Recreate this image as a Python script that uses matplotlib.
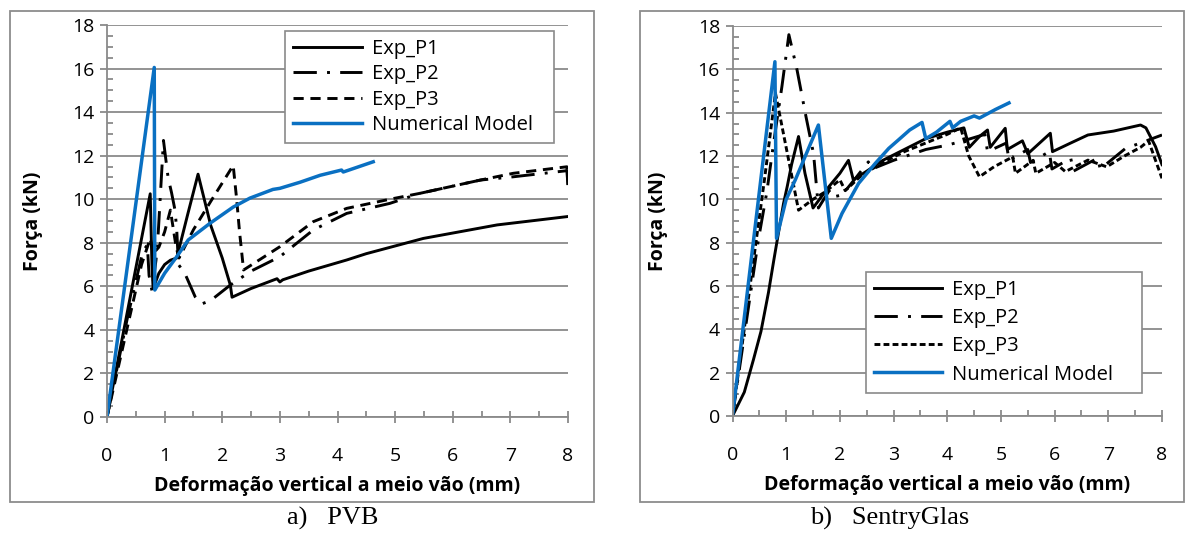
import numpy as np
import matplotlib
matplotlib.use('Agg')
import matplotlib.pyplot as plt
from matplotlib.patches import Rectangle
from matplotlib.ticker import MultipleLocator

plt.rcParams['font.family'] = ['Open Sans', 'DejaVu Sans']

# ---- a) PVB  (deformation mm, force kN)
pvb_p1_x = [0, 0.3, 0.6, 0.75, 0.78, 0.80, 0.9, 1.0, 1.1, 1.21, 1.4, 1.58, 1.8, 2.0, 2.14, 2.17,
            2.5, 2.95, 3.0, 3.05, 3.5, 4.16, 4.5, 5.49, 6.77, 7.98]
pvb_p1_y = [0, 4.1, 8.2, 10.25, 7.0, 5.9, 6.6, 7.0, 7.2, 7.3, 9.3, 11.15, 8.8, 7.3, 6.06, 5.5,
            5.9, 6.35, 6.2, 6.3, 6.7, 7.21, 7.5, 8.2, 8.82, 9.2]

pvb_p2_x = [0, 0.35, 0.62, 0.7, 0.73, 0.78, 0.85, 0.89, 0.98, 1.06, 1.12, 1.18, 1.21, 1.24,
            1.35, 1.53, 1.64, 1.8, 2.14, 2.5, 3.0, 3.58, 4.16, 4.91, 5.43, 6.48, 7.05, 7.98, 8.0]
pvb_p2_y = [0, 4.5, 7.6, 7.9, 6.5, 5.8, 7.2, 8.5, 12.7, 11.0, 10.3, 9.5, 8.6, 7.0,
            6.6, 5.52, 5.19, 5.35, 6.06, 6.7, 7.36, 8.59, 9.35, 9.81, 10.27, 10.88, 11.03, 11.31, 10.65]

pvb_p3_x = [0, 0.3, 0.6, 0.75, 0.8, 0.9, 1.0, 1.1, 1.2, 1.25, 1.5, 1.8, 2.19, 2.25, 2.3, 2.37,
            3.0, 3.58, 4.16, 4.91, 5.43, 6.48, 7.05, 7.98, 8.0]
pvb_p3_y = [0, 3.5, 7.0, 8.2, 7.5, 7.8, 8.5, 9.5, 7.8, 7.3, 8.6, 9.9, 11.55, 10.0, 8.5, 6.75,
            7.82, 8.97, 9.58, 10.0, 10.27, 10.88, 11.19, 11.49, 10.65]

pvb_num_x = [0, 0.82, 0.83, 1.0, 1.21, 1.41, 1.79, 2.19, 2.48, 2.88, 3.0, 3.35, 3.7, 4.07, 4.1, 4.62]
pvb_num_y = [0, 16.05, 5.83, 6.6, 7.36, 8.13, 8.9, 9.64, 10.05, 10.45, 10.5, 10.78, 11.1, 11.34, 11.25, 11.72]

# ---- b) SentryGlas
sg_p1_x = [0, 0.22, 0.39, 0.53, 0.67, 0.77, 0.88, 0.95, 1.02, 1.1, 1.23, 1.35, 1.5, 1.65, 1.8,
           2.0, 2.16, 2.25, 2.5, 2.8, 3.2, 3.6, 4.0, 4.31, 4.41, 4.6, 4.75, 4.8, 5.08, 5.12,
           5.4, 5.5, 5.92, 5.96, 6.3, 6.62, 7.1, 7.6, 7.7, 7.88, 8.0]
sg_p1_y = [0, 1.1, 2.6, 3.9, 5.7, 7.2, 8.8, 9.8, 10.6, 11.6, 12.9, 11.2, 9.6, 10.1, 10.6,
           11.2, 11.8, 10.9, 11.3, 11.8, 12.3, 12.8, 13.1, 13.3, 12.4, 12.9, 13.2, 12.4, 13.28, 12.3,
           12.7, 12.1, 13.05, 12.2, 12.6, 12.97, 13.15, 13.43, 13.3, 12.43, 11.6]

sg_p2_x = [0, 0.48, 0.64, 0.76, 0.92, 1.05, 1.2, 1.37, 1.51, 1.6, 1.8, 1.85, 2.04, 2.3, 2.53,
           2.6, 3.0, 3.6, 4.0, 4.3, 4.7, 4.75, 5.1, 5.15, 5.5, 5.55, 5.9, 5.95, 6.3, 6.35,
           6.8, 6.85, 7.32, 7.6, 8.0]
sg_p2_y = [0, 8.1, 10.35, 12.5, 15.2, 17.6, 16.0, 13.8, 12.1, 9.6, 10.4, 10.1, 10.2, 11.0, 11.73,
           11.4, 11.8, 12.3, 12.5, 12.7, 13.0, 12.2, 12.6, 11.8, 12.3, 11.7, 12.2, 11.4, 11.9, 11.3,
           11.9, 11.4, 12.35, 12.6, 12.97]

sg_p3_x = [0, 0.3, 0.6, 0.8, 1.23, 1.5, 1.73, 2.0, 2.1, 2.4, 2.8, 3.2, 3.6, 4.0, 4.25,
           4.4, 4.6, 4.87, 5.22, 5.27, 5.6, 5.65, 6.0, 6.2, 6.62, 6.97, 7.3, 7.6, 7.75, 7.85, 8.0]
sg_p3_y = [0, 5.5, 11.0, 14.9, 9.5, 10.0, 10.35, 10.9, 10.4, 11.1, 11.7, 12.2, 12.6, 13.0, 13.3,
           12.0, 11.04, 11.5, 11.96, 11.2, 11.8, 11.2, 11.7, 11.28, 11.81, 11.5, 12.0, 12.4, 12.7, 12.0, 10.97]

sg_num_x = [0, 0.79, 0.82, 1.0, 1.17, 1.6, 1.84, 2.04, 2.35, 2.66, 2.91, 3.09, 3.3, 3.53, 3.6,
            3.8, 4.05, 4.1, 4.25, 4.5, 4.6, 4.9, 5.15]
sg_num_y = [0, 16.35, 8.2, 10.0, 10.9, 13.43, 8.2, 9.35, 10.74, 11.66, 12.35, 12.74, 13.2, 13.55, 12.8,
            13.1, 13.6, 13.3, 13.6, 13.85, 13.75, 14.15, 14.45]

labels = ['Exp_P1', 'Exp_P2', 'Exp_P3', 'Numerical Model']
captions = ['a)   PVB', 'b)   SentryGlas']

W, H = 1185, 535
fig = plt.figure(figsize=(W / 100, H / 100), dpi=100)

def fx(px):
    return px / W

def fy(py):
    return 1 - py / H

# grey frames around each chart
for x0, x1 in [(9.6, 594), (640, 1184)]:
    fig.patches.append(Rectangle((fx(x0), fy(501.7)), fx(x1 - x0), (501.7 - 10.7) / H,
                                 transform=fig.transFigure, fill=False,
                                 edgecolor='#8c8c8c', lw=1.3))

grey = '#8a8a8a'
blue = '#0a70c2'
axL = fig.add_axes([fx(107), fy(417), fx(461), 392 / H])
axR = fig.add_axes([fx(732.5), fy(416), fx(429.5), 390 / H])

panels = [
    (axL, [(pvb_p1_x, pvb_p1_y), (pvb_p2_x, pvb_p2_y), (pvb_p3_x, pvb_p3_y), (pvb_num_x, pvb_num_y)],
     (3.5, 2.3), (285, 31, 554, 143.3), 0.27),
    (axR, [(sg_p1_x, sg_p1_y), (sg_p2_x, sg_p2_y), (sg_p3_x, sg_p3_y), (sg_num_x, sg_num_y)],
     (2.0, 1.1), (865.7, 272.3, 1142.3, 397.3), 0.4),
]

for i, (ax, series, p3dash, lbox, lspace) in enumerate(panels):
    (x1, y1), (x2, y2), (x3, y3), (xn, yn) = series
    ax.plot(x1, y1, color='black', lw=2.1, label=labels[0])
    ax.plot(x2, y2, color='black', lw=2.1, dashes=(8, 3.5, 1, 3.5), label=labels[1])
    ax.plot(x3, y3, color='black', lw=2.1, dashes=p3dash, label=labels[2])
    ax.plot(xn, yn, color=blue, lw=2.5, label=labels[3])

    ax.set_xlim(0, 8)
    ax.set_ylim(0, 18)
    ax.xaxis.set_major_locator(MultipleLocator(1))
    ax.xaxis.set_minor_locator(MultipleLocator(0.5))
    ax.yaxis.set_major_locator(MultipleLocator(2))
    ax.yaxis.set_minor_locator(MultipleLocator(0.5))
    ax.grid(axis='y', which='major', color=grey, lw=1.3)
    ax.set_axisbelow(True)
    for s in ['top', 'right']:
        ax.spines[s].set_visible(False)
    for s in ['left', 'bottom']:
        ax.spines[s].set_color(grey)
        ax.spines[s].set_linewidth(1.3)
    ax.tick_params(which='major', direction='out', length=5, width=1.3, color=grey,
                   labelsize=14, pad=4)
    ax.tick_params(which='minor', direction='in', length=4, width=1.3, color=grey)
    ax.tick_params(axis='x', which='major', direction='inout', length=9, pad=17)
    ax.set_xlabel('Deformação vertical a meio vão (mm)', fontsize=14, fontweight='bold', labelpad=8)
    ax.set_ylabel('Força (kN)', fontsize=14, fontweight='bold', labelpad=21)

    bx0, by0, bx1, by1 = lbox
    leg = ax.legend(loc='upper left', bbox_to_anchor=(fx(bx0), fy(by1), fx(bx1 - bx0), (by1 - by0) / H),
                    bbox_transform=fig.transFigure, mode='expand', fontsize=14.5,
                    handlelength=3.4, handletextpad=0.5, labelspacing=lspace,
                    borderpad=0.4, borderaxespad=0, fancybox=False, framealpha=1, edgecolor=grey)
    leg.get_frame().set_linewidth(1.2)

    fig.text(fx(333 if i == 0 else 890), fy(518), captions[i], ha='center', va='center',
             fontsize=19, family=['Liberation Serif', 'DejaVu Serif'])

fig.savefig('out.png', dpi=100)
